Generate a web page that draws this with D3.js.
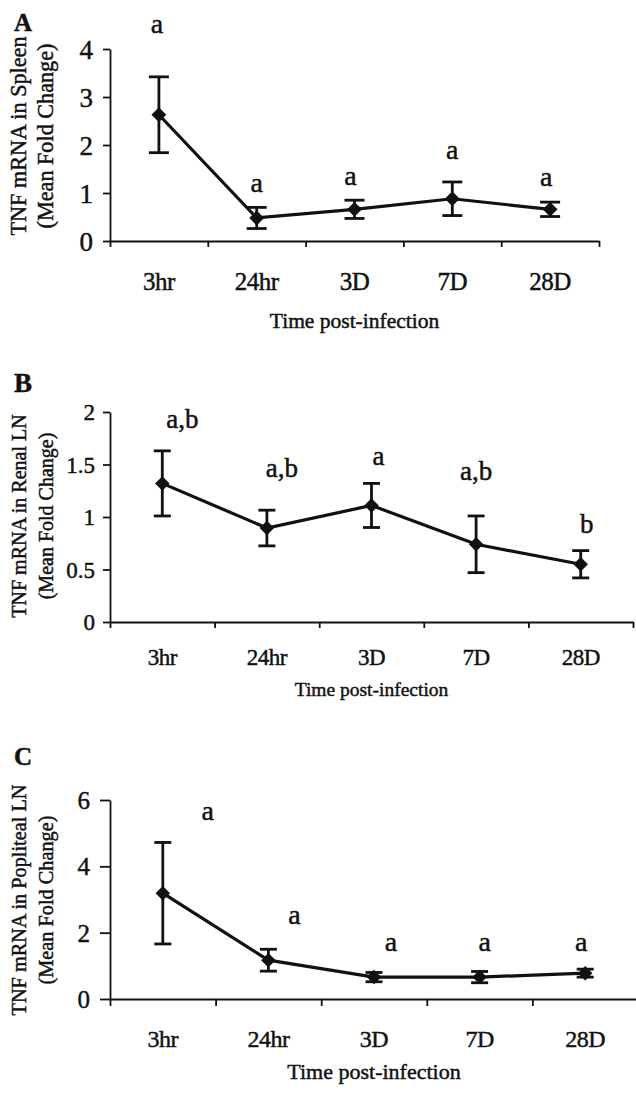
<!DOCTYPE html>
<html>
<head>
<meta charset="utf-8">
<script src="https://cdn.jsdelivr.net/npm/d3@7"></script>
<style>
  body { margin: 0; background: #fff; }
  svg text { font-family: "Liberation Serif", "Times New Roman", serif; fill: #111; stroke: #111; stroke-width: 0.45px; }
  .axis path, .axis line { stroke: #111; }
</style>
</head>
<body>
<div id="chart"></div>
<script>
// time points (x categories)
const times = ["3hr", "24hr", "3D", "7D", "28D"];

// A - spleen
const spleenMean = [2.63, 0.48, 0.66, 0.88, 0.66];
const spleenErr = [0.79, 0.22, 0.19, 0.35, 0.15];
const spleenLetters = ["a", "a", "a", "a", "a"];
const spleenTicks = [0, 1, 2, 3, 4];

// B - renal LN
const renalMean = [1.32, 0.895, 1.11, 0.74, 0.55];
const renalErr = [0.31, 0.17, 0.21, 0.27, 0.13];
const renalLetters = ["a,b", "a,b", "a", "a,b", "b"];
const renalTicks = [0, 0.5, 1, 1.5, 2];

// C - popliteal LN
const poplMean = [3.19, 1.17, 0.66, 0.66, 0.78];
const poplErr = [1.53, 0.33, 0.14, 0.17, 0.12];
const poplLetters = ["a", "a", "a", "a", "a"];
const poplTicks = [0, 2, 4, 6];

let width = 636, height = 1094;

const svg = d3.select("#chart").append("svg")
  .attr("width", width)
  .attr("height", height)
  .style("display", "block");

svg.append("rect").attr("width", width).attr("height", height).attr("fill", "#fff");

// layout of each panel (pixels), letter heights in data units
const panels = [
  {name: "A", mean: spleenMean, err: spleenErr, letters: spleenLetters, ticks: spleenTicks,
   left: 110, right: 599, top: 49, bottom: 241, letterY: 31, letterSize: 25,
   title: ["TNF mRNA in Spleen", "(Mean Fold Change)"], titleY: 136, titleSize: 22.2,
   tickSize: 27, tickLen: 7, tickPad: 10, xSize: 25, xBase: 290, xTickLen: 6,
   xTitleSize: 21.5, xTitleBase: 328, capW: 20, markSize: 110,
   labAt: [4.33, 1.02, 1.17, 1.71, 1.15], labDx: [-2, 0, -4, 0, -4], labSize: 28},
  {name: "B", mean: renalMean, err: renalErr, letters: renalLetters, ticks: renalTicks,
   left: 110, right: 633, top: 412, bottom: 622, letterY: 392, letterSize: 27,
   title: ["TNF mRNA in Renal LN", "(Mean Fold Change)"], titleY: 516, titleSize: 20,
   tickSize: 23, tickLen: 7, tickPad: 8, xSize: 23, xBase: 665, xTickLen: 6,
   xTitleSize: 19.5, xTitleBase: 696, capW: 17, markSize: 105,
   labAt: [1.85, 1.38, 1.5, 1.35, 0.85], labDx: [20, 15, 7, 0, 6], labSize: 27},
  {name: "C", mean: poplMean, err: poplErr, letters: poplLetters, ticks: poplTicks,
   left: 110, right: 638, top: 800, bottom: 999, letterY: 765, letterSize: 25,
   title: ["TNF mRNA in Popliteal LN", "(Mean Fold Change)"], titleY: 900, titleSize: 20.3,
   tickSize: 25, tickLen: 10, tickPad: 10, xSize: 24, xBase: 1047, xTickLen: 7,
   xTitleSize: 22, xTitleBase: 1079, capW: 17, markSize: 105,
   labAt: [5.39, 2.26, 1.45, 1.45, 1.45], labDx: [45, 26, 17, 5, -4], labSize: 28}
];

panels.forEach(function(p) {
  let g = svg.append("g").attr("class", "panel " + p.name);

  let x = d3.scaleBand().domain(times).range([p.left, p.right]);
  let xEdge = d3.scaleLinear().domain([0, times.length]).range([p.left, p.right]);
  let y = d3.scaleLinear().domain([0, d3.max(p.ticks)]).range([p.bottom, p.top]);

  // x axis line + ticks at category boundaries
  g.append("g")
    .attr("class", "axis x")
    .attr("transform", "translate(0," + p.bottom + ")")
    .call(d3.axisBottom(xEdge).ticks(times.length).tickSize(p.xTickLen).tickSizeOuter(0).tickFormat(""))
    .call(s => s.selectAll("path, line").attr("stroke-width", 1.8));

  // category labels
  g.append("g")
    .attr("transform", "translate(0," + p.bottom + ")")
    .call(d3.axisBottom(x).tickSize(0).tickPadding(0))
    .call(s => s.select(".domain").remove())
    .selectAll("text")
      .attr("y", p.xBase - p.bottom)
      .attr("dy", 0)
      .style("font-size", p.xSize + "px")
      .style("letter-spacing", "-0.5px");

  // y axis
  g.append("g")
    .attr("class", "axis y")
    .attr("transform", "translate(" + p.left + ",0)")
    .call(d3.axisLeft(y).tickValues(p.ticks).tickSize(p.tickLen).tickPadding(p.tickPad).tickSizeOuter(0)
      .tickFormat(d3.format("")))
    .call(s => s.selectAll("path, line").attr("stroke-width", 1.8))
    .selectAll("text")
      .style("font-size", p.tickSize + "px")
      .attr("dy", "0.34em");

  // y titles (two rotated lines)
  g.append("text")
    .attr("transform", "translate(26," + p.titleY + ") rotate(-90)")
    .attr("text-anchor", "middle")
    .style("font-size", p.titleSize + "px")
    .text(p.title[0]);
  g.append("text")
    .attr("transform", "translate(53," + p.titleY + ") rotate(-90)")
    .attr("text-anchor", "middle")
    .style("font-size", p.titleSize + "px")
    .text(p.title[1]);

  // x title
  g.append("text")
    .attr("x", (p.left + p.right) / 2)
    .attr("y", p.xTitleBase)
    .attr("text-anchor", "middle")
    .style("font-size", p.xTitleSize + "px")
    .text("Time post-infection");

  // panel letter
  g.append("text")
    .attr("x", 14)
    .attr("y", p.letterY)
    .style("font-size", p.letterSize + "px")
    .style("font-weight", "bold")
    .text(p.name);

  let pts = times.map((t, i) => ({t: t, m: p.mean[i], e: p.err[i], lab: p.letters[i], at: p.labAt[i], dx: p.labDx[i]}));
  let cx = d => x(d.t) + x.bandwidth() / 2;

  // error bars
  let eb = g.selectAll(".err").data(pts).join("g").attr("class", "err")
    .attr("stroke", "#111").attr("stroke-width", 2.8);
  eb.append("line")
    .attr("x1", cx).attr("x2", cx)
    .attr("y1", d => y(d.m + d.e)).attr("y2", d => y(d.m - d.e));
  eb.append("line")
    .attr("x1", d => cx(d) - p.capW / 2).attr("x2", d => cx(d) + p.capW / 2)
    .attr("y1", d => y(d.m + d.e)).attr("y2", d => y(d.m + d.e));
  eb.append("line")
    .attr("x1", d => cx(d) - p.capW / 2).attr("x2", d => cx(d) + p.capW / 2)
    .attr("y1", d => y(d.m - d.e)).attr("y2", d => y(d.m - d.e));

  // the line
  g.append("path")
    .datum(pts)
    .attr("fill", "none")
    .attr("stroke", "#111")
    .attr("stroke-width", 3.2)
    .attr("d", d3.line().x(cx).y(d => y(d.m)));

  // diamond markers
  g.selectAll(".mark").data(pts).join("path")
    .attr("class", "mark")
    .attr("d", d3.symbol().type(d3.symbolSquare).size(p.markSize))
    .attr("transform", d => "translate(" + cx(d) + "," + y(d.m) + ") rotate(45)")
    .attr("fill", "#111");

  // significance letters
  g.selectAll(".lab").data(pts).join("text")
    .attr("class", "lab")
    .attr("x", d => cx(d) + d.dx)
    .attr("y", d => y(d.at))
    .attr("text-anchor", "middle")
    .style("font-size", p.labSize + "px")
    .text(d => d.lab);
});
</script>
</body>
</html>
